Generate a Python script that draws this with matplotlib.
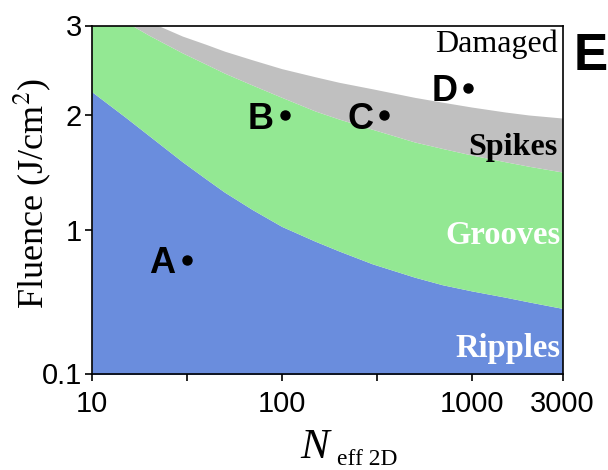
import numpy as np
import matplotlib
matplotlib.use('Agg')
import matplotlib.pyplot as plt

# ---- data ----
N = [10, 15, 20, 30, 40, 50, 70, 100, 150, 200, 300, 500, 700, 1000, 1500, 2000, 3000]
ripples_top = [2.24, 1.98, 1.80, 1.56, 1.41, 1.30, 1.16, 1.03, 0.92, 0.85, 0.76, 0.67, 0.62,
               0.58, 0.54, 0.51, 0.47]
grooves_top = [3.31, 3.05, 2.88, 2.67, 2.54, 2.44, 2.31, 2.18, 2.04, 1.96, 1.86, 1.74, 1.68,
               1.62, 1.56, 1.52, 1.47]
spikes_top = [3.38, 3.18, 3.05, 2.87, 2.77, 2.69, 2.59, 2.49, 2.40, 2.34, 2.27, 2.18, 2.13,
              2.08, 2.03, 2.00, 1.97]

point_labels = ['A', 'B', 'C', 'D']
point_N = [31.6, 104, 346, 960]
point_F = [0.79, 2.0, 2.0, 2.28]

region_labels = ['Damaged', 'Spikes', 'Grooves', 'Ripples']

x_ticks = [10, 10**1.5, 100, 10**2.5, 1000, 3000]
x_ticklabels = ['10', '', '100', '', '1000', '3000']
y_ticks = [0.1, 1, 2, 3]
y_ticklabels = ['0.1', '1', '2', '3']

# ---- style ----
BLUE = '#6A8DDD'
GREEN = '#93E893'
GRAY = '#C0C0C0'
SANS = 'Liberation Sans'
SERIF = 'Liberation Serif'
plt.rcParams['mathtext.fontset'] = 'stix'

fig = plt.figure(figsize=(6.08, 4.70), dpi=100)
ax = fig.add_axes([91.7/608, 1-373.5/470, (562.5-91.7)/608, 348/470])

def fwd(y):
    return np.log10(np.asarray(y, dtype=float) + 2.0)

def inv(t):
    return 10.0**np.asarray(t, dtype=float) - 2.0

ax.set_xscale('log')
ax.set_yscale('function', functions=(fwd, inv))

ax.fill_between(N, 0.05, ripples_top, color=BLUE, lw=0)
ax.fill_between(N, ripples_top, grooves_top, color=GREEN, lw=0)
ax.fill_between(N, grooves_top, spikes_top, color=GRAY, lw=0)

ax.plot(point_N, point_F, 'o', color='black', ms=6.5, zorder=5)
for lab, n, f in zip(point_labels, point_N, point_F):
    ax.annotate(lab, (n, f), xytext=(-8, 0), textcoords='offset points',
                ha='right', va='center_baseline', fontsize=26, fontweight='bold',
                family=SANS, color='black')

ax.set_xlim(10, 3000)
ax.set_ylim(0.1, 3)

ax.set_xticks(x_ticks)
ax.set_xticklabels(x_ticklabels)
ax.xaxis.set_minor_locator(matplotlib.ticker.NullLocator())
ax.set_yticks(y_ticks)
ax.set_yticklabels(y_ticklabels)
ax.yaxis.set_minor_locator(matplotlib.ticker.NullLocator())

ax.tick_params(axis='x', direction='out', length=5, width=1.2, pad=7, labelsize=21)
ax.tick_params(axis='y', direction='out', length=5, width=1.2, pad=2, labelsize=21)
for lab in ax.get_xticklabels() + ax.get_yticklabels():
    lab.set_family(SANS)
for sp in ax.spines.values():
    sp.set_linewidth(1.2)

# region labels
ax.text(0.99, 0.923, region_labels[0], transform=ax.transAxes, ha='right', va='baseline',
        fontsize=23, family=SERIF, color='black')
ax.text(0.99, 0.628, region_labels[1], transform=ax.transAxes, ha='right', va='baseline',
        fontsize=23, family=SERIF, fontweight='bold', color='black')
ax.text(0.995, 0.372, region_labels[2], transform=ax.transAxes, ha='right', va='baseline',
        fontsize=23.5, family=SERIF, fontweight='bold', color='white')
ax.text(0.995, 0.048, region_labels[3], transform=ax.transAxes, ha='right', va='baseline',
        fontsize=23.5, family=SERIF, fontweight='bold', color='white')

ax.set_ylabel('Fluence (J/cm$^2$)', fontsize=26, family=SERIF)
ax.yaxis.set_label_coords(-0.082, 0.517)

# x label: italic N with upright subscript
ax.text(0.444, -0.243, 'N', transform=ax.transAxes, ha='left', va='baseline',
        fontsize=31, family=SERIF, style='italic', clip_on=False)
ax.text(0.522, -0.263, 'eff 2D', transform=ax.transAxes, ha='left', va='baseline',
        fontsize=17, family=SERIF, clip_on=False)

fig.text(574/608, 1-70/470, 'E', fontsize=37, fontweight='bold', family=SANS,
         ha='left', va='baseline')

fig.savefig('out.png', dpi=100)
